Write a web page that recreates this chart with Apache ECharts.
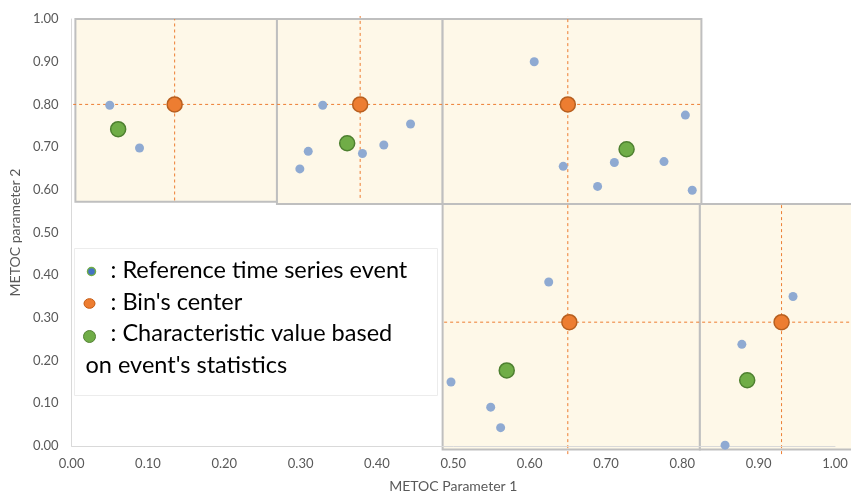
<!DOCTYPE html>
<html>
<head>
<meta charset="utf-8">
<script src="https://cdn.jsdelivr.net/npm/echarts@6/dist/echarts.min.js"></script>
<style>
  html, body { margin: 0; padding: 0; background: #ffffff; }
  #chart { width: 851px; height: 498px; }
</style>
</head>
<body>
<div id="chart"></div>
<script>
// Reference time series events (METOC parameter 1, METOC parameter 2)
const refX = [0.050, 0.089, 0.329, 0.444, 0.409, 0.381, 0.310, 0.299,
              0.606, 0.804, 0.644, 0.711, 0.776, 0.689, 0.813,
              0.625, 0.497, 0.549, 0.562, 0.945, 0.878, 0.856];
const refY = [0.798, 0.698, 0.798, 0.754, 0.705, 0.685, 0.690, 0.649,
              0.900, 0.775, 0.655, 0.664, 0.666, 0.608, 0.599,
              0.384, 0.150, 0.091, 0.043, 0.350, 0.238, 0.002];

// Bin centres
const centerX = [0.135, 0.378, 0.650, 0.652, 0.930];
const centerY = [0.800, 0.800, 0.800, 0.290, 0.290];

// Characteristic values from the event statistics of each bin
const charX = [0.061, 0.361, 0.727, 0.570, 0.885];
const charY = [0.742, 0.709, 0.695, 0.177, 0.154];

// Bin extents
const binX0 = [0.005, 0.269, 0.486, 0.486, 0.823];
const binX1 = [0.269, 0.486, 0.825, 0.823, 1.080];
const binY0 = [0.572, 0.567, 0.567, -0.008, -0.008];
const binY1 = [1.000, 1.000, 1.000, 0.567, 0.567];

// Dashed guides through the bin centres
const vLineX  = [0.135, 0.378, 0.650, 0.930];
const vLineY0 = [0.575, 0.581, -0.019, -0.019];
const vLineY1 = [1.000, 1.007, 1.007, 0.567];
const hLineY  = [0.800, 0.290];
const hLineX0 = [0.002, 0.488];
const hLineX1 = [0.825, 1.080];

// Axis ticks
const axisMin = 0, axisMax = 1, axisStep = 0.1;

const FONT = 'Lato';
const chart = echarts.init(document.getElementById('chart'), null, { renderer: 'canvas' });

const binData = binX0.map((x0, i) => [x0, binY0[i], binX1[i], binY1[i]]);
const vLineData = vLineX.map((x, i) => [x, vLineY0[i], x, vLineY1[i]]);
const hLineData = hLineY.map((y, i) => [hLineX0[i], y, hLineX1[i], y]);

function segmentSeries(name, data) {
  return {
    name: name,
    type: 'custom',
    clip: false,
    z: 2,
    silent: true,
    data: data,
    renderItem: function (params, api) {
      const a = api.coord([api.value(0), api.value(1)]);
      const b = api.coord([api.value(2), api.value(3)]);
      return {
        type: 'line',
        shape: { x1: a[0], y1: a[1], x2: b[0], y2: b[1] },
        style: { stroke: '#ed7d31', lineWidth: 1, lineDash: [3, 3] }
      };
    }
  };
}

chart.setOption({
  animation: false,
  backgroundColor: '#ffffff',
  grid: { left: 70, right: 16, top: 19, bottom: 49, containLabel: false },
  xAxis: {
    type: 'value', min: axisMin, max: axisMax, interval: axisStep, z: 3,
    name: 'METOC Parameter 1', nameLocation: 'middle', nameGap: 33,
    nameTextStyle: { fontFamily: FONT, fontSize: 14, color: '#595959' },
    axisLine: { show: true, lineStyle: { color: '#d9d9d9', width: 1 } },
    axisTick: { show: false },
    splitLine: { show: false },
    axisLabel: { fontFamily: FONT, fontSize: 13, color: '#595959', margin: 11,
                 formatter: v => v.toFixed(2) }
  },
  yAxis: {
    type: 'value', min: axisMin, max: axisMax, interval: axisStep, z: 3,
    name: 'METOC parameter 2', nameLocation: 'middle', nameGap: 48,
    nameTextStyle: { fontFamily: FONT, fontSize: 14, color: '#595959' },
    axisLine: { show: true, lineStyle: { color: '#d9d9d9', width: 1 } },
    axisTick: { show: false },
    splitLine: { show: false },
    axisLabel: { fontFamily: FONT, fontSize: 13, color: '#595959', margin: 13,
                 formatter: v => v.toFixed(2) }
  },
  series: [
    {
      name: 'Bins',
      type: 'custom',
      clip: false,
      z: 1,
      silent: true,
      data: binData,
      renderItem: function (params, api) {
        const a = api.coord([api.value(0), api.value(3)]);
        const b = api.coord([api.value(2), api.value(1)]);
        return {
          type: 'rect',
          shape: { x: a[0], y: a[1], width: b[0] - a[0], height: b[1] - a[1] },
          style: { fill: '#fef8e8', stroke: '#bfbfbf', lineWidth: 2 }
        };
      }
    },
    segmentSeries('Vertical guides', vLineData),
    segmentSeries('Horizontal guides', hLineData),
    {
      name: 'Reference time series event',
      type: 'scatter', z: 4,
      symbolSize: 9,
      itemStyle: { color: '#8faad2', opacity: 1 },
      data: refX.map((x, i) => [x, refY[i]])
    },
    {
      name: "Bin's center",
      type: 'scatter', z: 5,
      symbolSize: 15,
      itemStyle: { color: '#ed7d31', borderColor: '#b75f1f', borderWidth: 1.5, opacity: 1 },
      data: centerX.map((x, i) => [x, centerY[i]])
    },
    {
      name: 'Characteristic value',
      type: 'scatter', z: 5,
      symbolSize: 15,
      itemStyle: { color: '#70ad47', borderColor: '#4e8030', borderWidth: 1.5, opacity: 1 },
      data: charX.map((x, i) => [x, charY[i]])
    }
  ],
  graphic: [
    {
      type: 'group', left: 74, top: 248, z: 10,
      children: [
        { type: 'rect', shape: { x: 0, y: 0, width: 363, height: 147 },
          style: { fill: '#ffffff', stroke: '#ececec', lineWidth: 1 } },
        { type: 'circle', shape: { cx: 17, cy: 23, r: 4 },
          style: { fill: '#4472c4', stroke: '#70ad47', lineWidth: 1.5 } },
        { type: 'ellipse', shape: { cx: 15, cy: 55, rx: 5.5, ry: 4.8 },
          style: { fill: '#ed7d31', stroke: '#c55a11', lineWidth: 1 } },
        { type: 'circle', shape: { cx: 15, cy: 88, r: 6 },
          style: { fill: '#70ad47', stroke: '#548235', lineWidth: 1 } },
        { type: 'text', x: 36, y: 22,
          style: { text: ': Reference time series event', fontFamily: FONT, fontSize: 23.5,
                   fill: '#000000', verticalAlign: 'middle' } },
        { type: 'text', x: 36, y: 54,
          style: { text: ": Bin's center", fontFamily: FONT, fontSize: 23.5,
                   fill: '#000000', verticalAlign: 'middle' } },
        { type: 'text', x: 36, y: 85,
          style: { text: ': Characteristic value based', fontFamily: FONT, fontSize: 23.5,
                   fill: '#000000', verticalAlign: 'middle' } },
        { type: 'text', x: 11, y: 117,
          style: { text: "on event's statistics", fontFamily: FONT, fontSize: 23.5,
                   fill: '#000000', verticalAlign: 'middle' } }
      ]
    }
  ]
});
</script>
</body>
</html>
